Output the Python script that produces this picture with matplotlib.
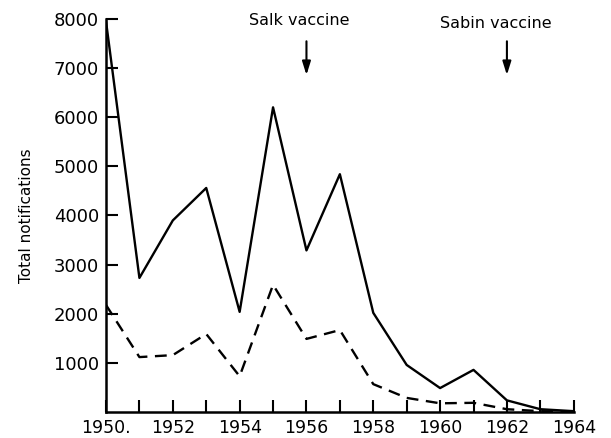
import numpy as np
import matplotlib
matplotlib.use("Agg")
import matplotlib.pyplot as plt

years = np.arange(1950, 1965)
total = [7950, 2730, 3900, 4560, 2040, 6200, 3290, 4840, 2020, 960, 490, 860, 240, 60, 20]
paralytic = [2180, 1120, 1160, 1590, 730, 2590, 1490, 1670, 570, 290, 180, 190, 60, 20, 10]

xtick_labels = ["1950.", "", "1952", "", "1954", "", "1956", "", "1958", "", "1960", "", "1962", "", "1964"]
ytick_vals = [1000, 2000, 3000, 4000, 5000, 6000, 7000, 8000]

fig = plt.figure(figsize=(6.11, 4.38), dpi=100)
ax = fig.add_axes([0.1735, 0.059, 0.7655, 0.898])

ax.plot(years, total, color="black", lw=1.7)
ax.plot(years, paralytic, color="black", lw=1.7, dashes=(5, 3.2))

ax.set_xlim(1950, 1964)
ax.set_ylim(0, 8000)
ax.set_xticks(years)
ax.set_xticklabels(xtick_labels, fontsize=12.5)
ax.set_yticks(ytick_vals)
ax.set_yticklabels([str(v) for v in ytick_vals], fontsize=13)
ax.tick_params(direction="in", length=8.5, width=1.5, pad=5)

for s in ["top", "right"]:
    ax.spines[s].set_visible(False)
for s in ["left", "bottom"]:
    ax.spines[s].set_linewidth(1.8)

ax.set_ylabel("Total notifications", fontsize=11, labelpad=14)

# vaccine markers
ax.annotate("", xy=(1956, 6800), xytext=(1956, 7600),
            arrowprops=dict(arrowstyle="-|>,head_width=0.25,head_length=0.8",
                            color="black", lw=1.5))
ax.text(1955.77, 7960, "Salk vaccine", ha="center", va="center", fontsize=11.5)
ax.annotate("", xy=(1962, 6800), xytext=(1962, 7600),
            arrowprops=dict(arrowstyle="-|>,head_width=0.25,head_length=0.8",
                            color="black", lw=1.5))
ax.text(1961.67, 7910, "Sabin vaccine", ha="center", va="center", fontsize=11.5)

fig.savefig("out.png", dpi=100)
